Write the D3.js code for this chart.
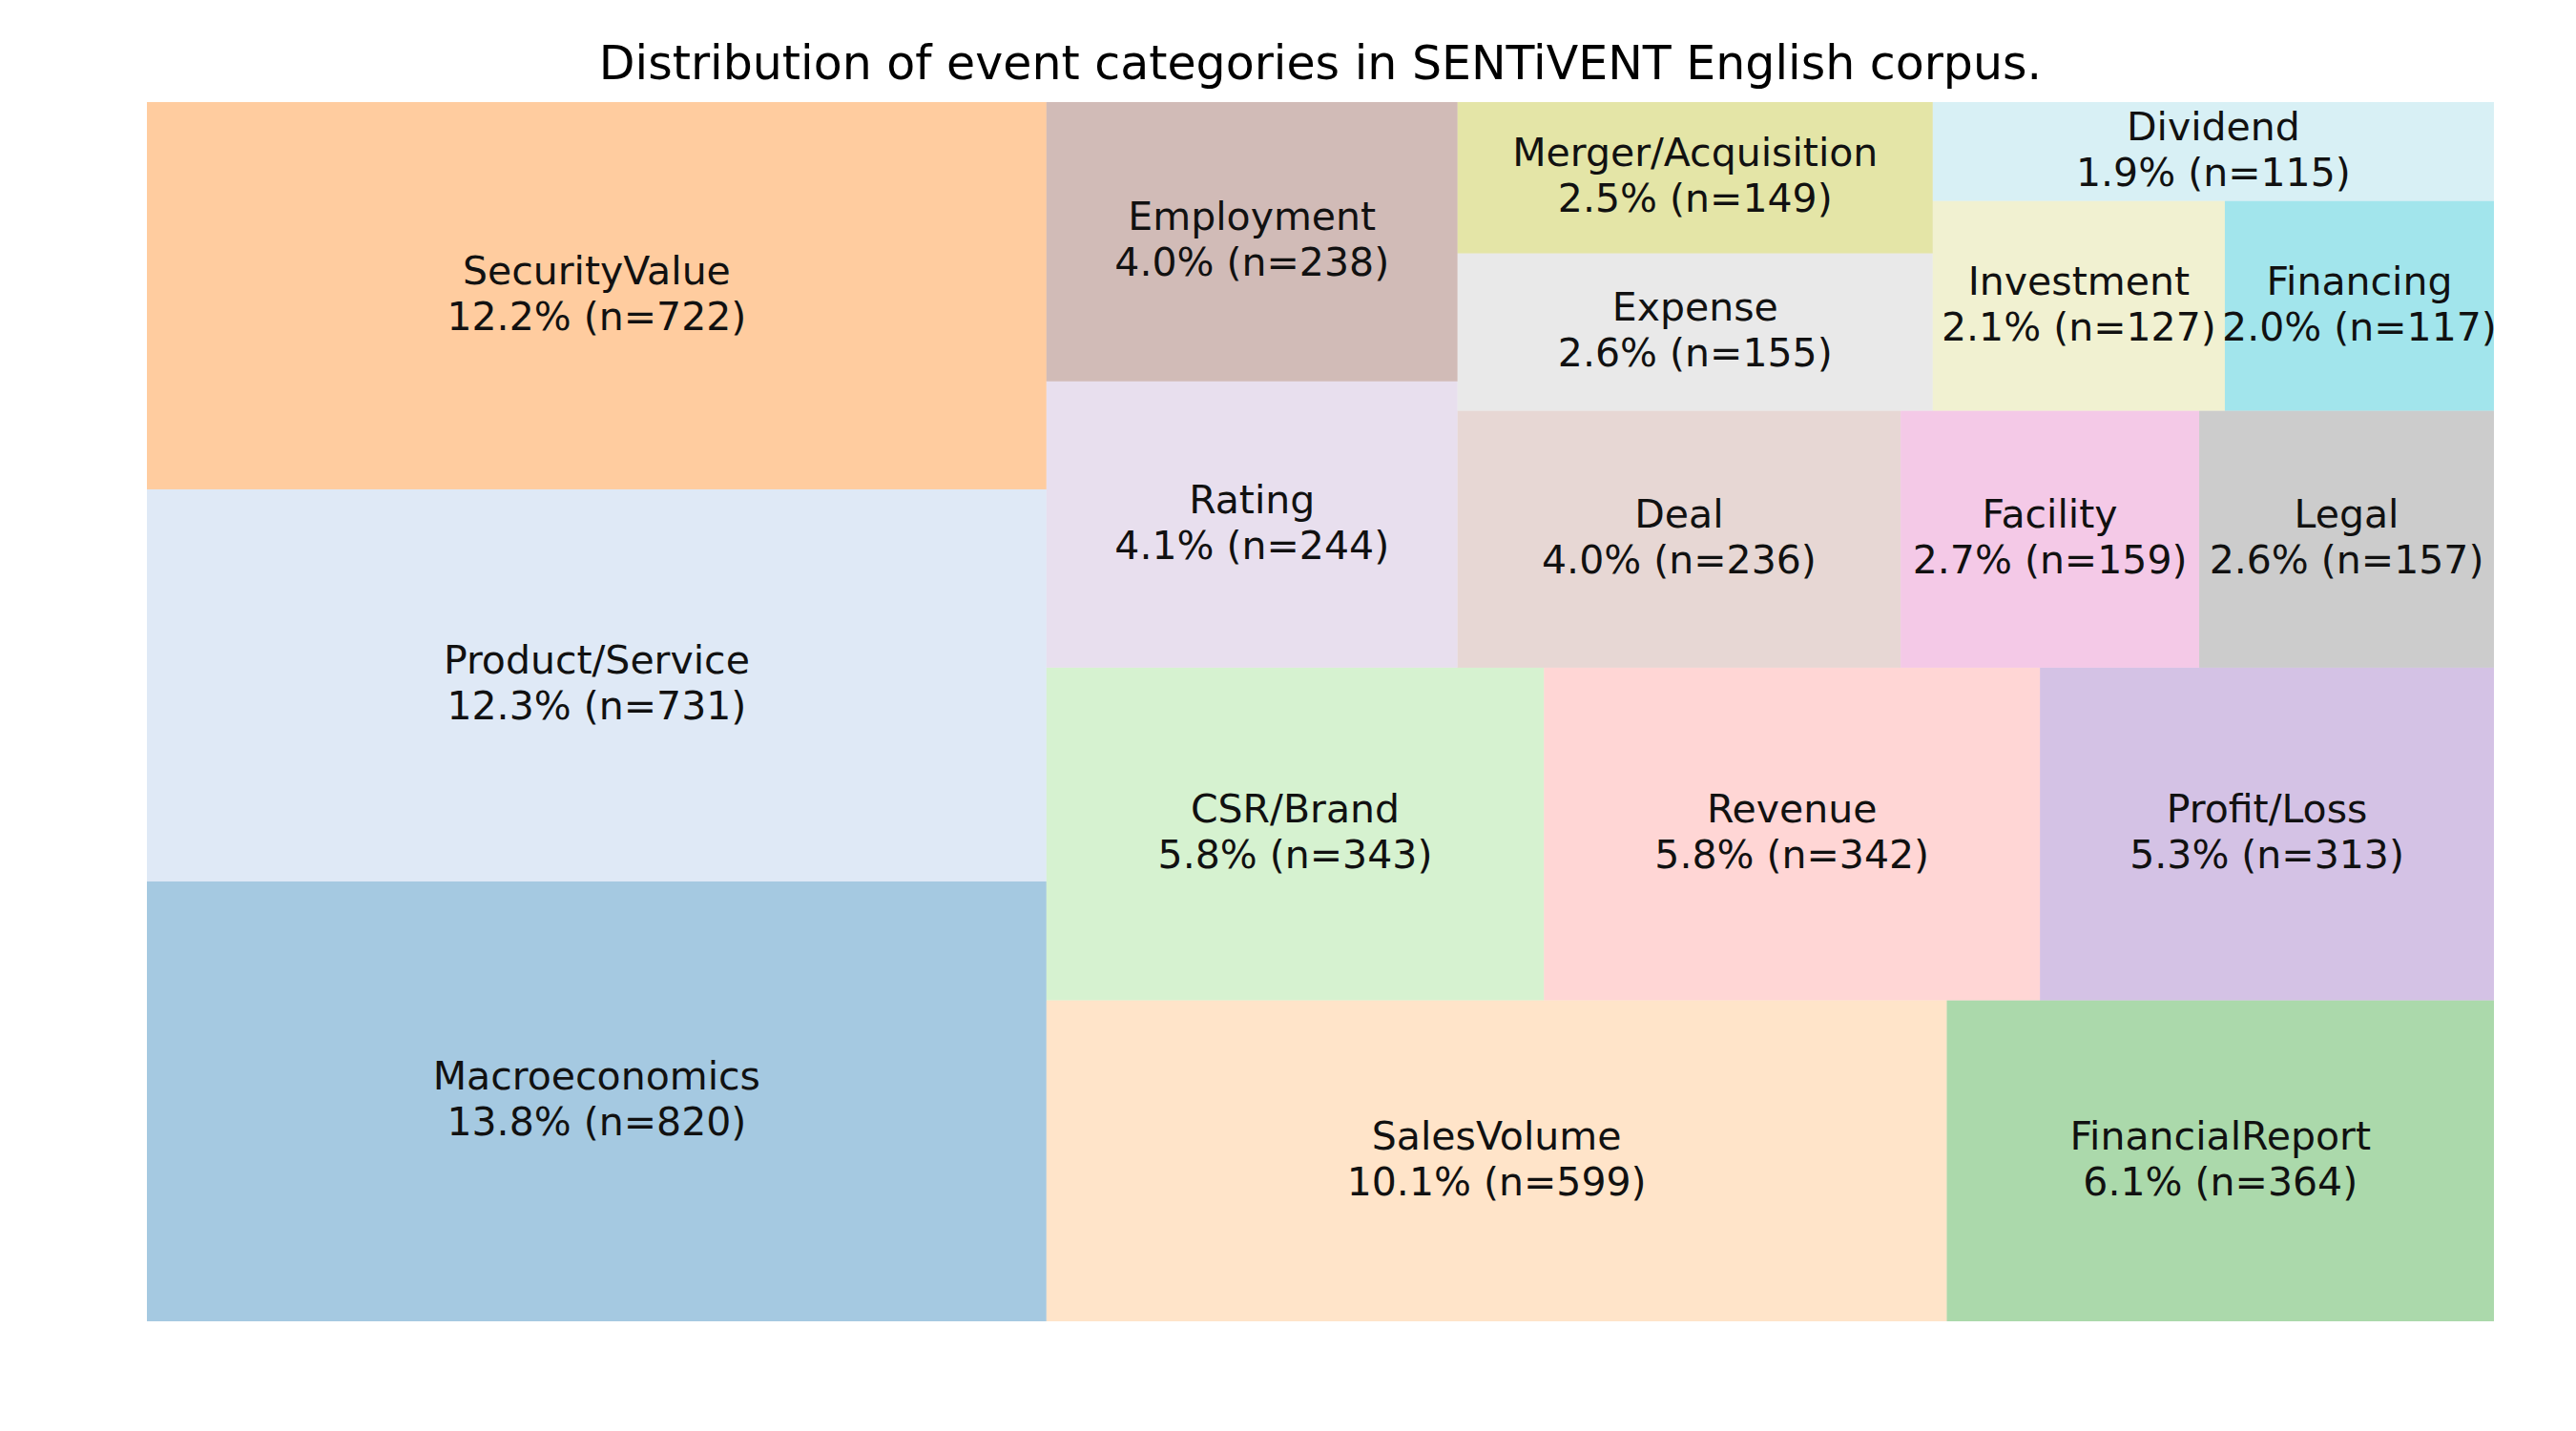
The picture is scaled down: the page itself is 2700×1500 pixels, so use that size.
<!DOCTYPE html>
<head>
    <meta charset="utf-8" />
    <script src="https://d3js.org/d3.v7.min.js"></script>
    <style>
        body { margin: 0; background: #fff; }
        text { font-family: "DejaVu Sans", sans-serif; }
    </style>
</head>
<body>
<script>
    var width = 2700, height = 1500;

    var categories = ["Macroeconomics", "Product/Service", "SecurityValue", "SalesVolume", "FinancialReport",
        "CSR/Brand", "Revenue", "Profit/Loss", "Rating", "Employment", "Deal", "Facility", "Legal",
        "Expense", "Merger/Acquisition", "Investment", "Financing", "Dividend"];
    var counts = [820, 731, 722, 599, 364, 343, 342, 313, 244, 238, 236, 159, 157, 155, 149, 127, 117, 115];
    var colors = ["#1f77b4", "#aec7e8", "#ff7f0e", "#ffbb78", "#2ca02c", "#98df8a", "#ff9896", "#9467bd",
        "#c5b0d5", "#8c564b", "#c49c94", "#e377c2", "#7f7f7f", "#c7c7c7", "#bcbd22", "#dbdb8d", "#17becf", "#9edae5"];

    // squarify (same algorithm as the python package), in a 100x100 space, y up
    function layoutrow(s, x, y, dx, dy) {
        var w = d3.sum(s) / dy, out = [];
        s.forEach(function(v) { out.push({x: x, y: y, dx: w, dy: v / w}); y += v / w; });
        return out;
    }
    function layoutcol(s, x, y, dx, dy) {
        var h = d3.sum(s) / dx, out = [];
        s.forEach(function(v) { out.push({x: x, y: y, dx: v / h, dy: h}); x += v / h; });
        return out;
    }
    function layout(s, x, y, dx, dy) { return dx >= dy ? layoutrow(s, x, y, dx, dy) : layoutcol(s, x, y, dx, dy); }
    function leftover(s, x, y, dx, dy) {
        if (dx >= dy) { var w = d3.sum(s) / dy; return [x + w, y, dx - w, dy]; }
        var h = d3.sum(s) / dx; return [x, y + h, dx, dy - h];
    }
    function worst(s, x, y, dx, dy) {
        return d3.max(layout(s, x, y, dx, dy), function(r) { return Math.max(r.dx / r.dy, r.dy / r.dx); });
    }
    function squarify(s, x, y, dx, dy) {
        if (s.length === 0) return [];
        if (s.length === 1) return layout(s, x, y, dx, dy);
        var i = 1;
        while (i < s.length && worst(s.slice(0, i), x, y, dx, dy) >= worst(s.slice(0, i + 1), x, y, dx, dy)) i++;
        var cur = s.slice(0, i), lo = leftover(cur, x, y, dx, dy);
        return layout(cur, x, y, dx, dy).concat(squarify(s.slice(i), lo[0], lo[1], lo[2], lo[3]));
    }

    var total = d3.sum(counts);
    var sizes = counts.map(function(c) { return c * 100 * 100 / total; });
    var rects = squarify(sizes, 0, 0, 100, 100);

    var xs = d3.scaleLinear().domain([0, 100]).range([154, 2614]);
    var ys = d3.scaleLinear().domain([0, 100]).range([1385, 107]);

    var svg = d3.select("body").append("svg").attr("width", width).attr("height", height);

    svg.append("text").attr("x", 1384).attr("y", 83).attr("text-anchor", "middle")
        .style("font-size", "49px").text("Distribution of event categories in SENTiVENT English corpus.");

    var g = svg.selectAll("g.cell").data(rects).join("g").attr("class", "cell");
    g.append("rect")
        .attr("x", function(d) { return xs(d.x); })
        .attr("y", function(d) { return ys(d.y + d.dy); })
        .attr("width", function(d) { return xs(d.x + d.dx) - xs(d.x); })
        .attr("height", function(d) { return ys(d.y) - ys(d.y + d.dy); })
        .attr("fill", function(d, i) { return colors[i]; })
        .attr("fill-opacity", 0.4);
    var t = g.append("text").attr("text-anchor", "middle").style("font-size", "41px").style("fill", "#111");
    t.append("tspan")
        .attr("x", function(d) { return xs(d.x + d.dx / 2); })
        .attr("y", function(d) { return ys(d.y + d.dy / 2) - 12; })
        .text(function(d, i) { return categories[i]; });
    t.append("tspan")
        .attr("x", function(d) { return xs(d.x + d.dx / 2); })
        .attr("y", function(d) { return ys(d.y + d.dy / 2) + 36; })
        .text(function(d, i) { return (counts[i] / total * 100).toFixed(1) + "% (n=" + counts[i] + ")"; });
</script>
</body>
